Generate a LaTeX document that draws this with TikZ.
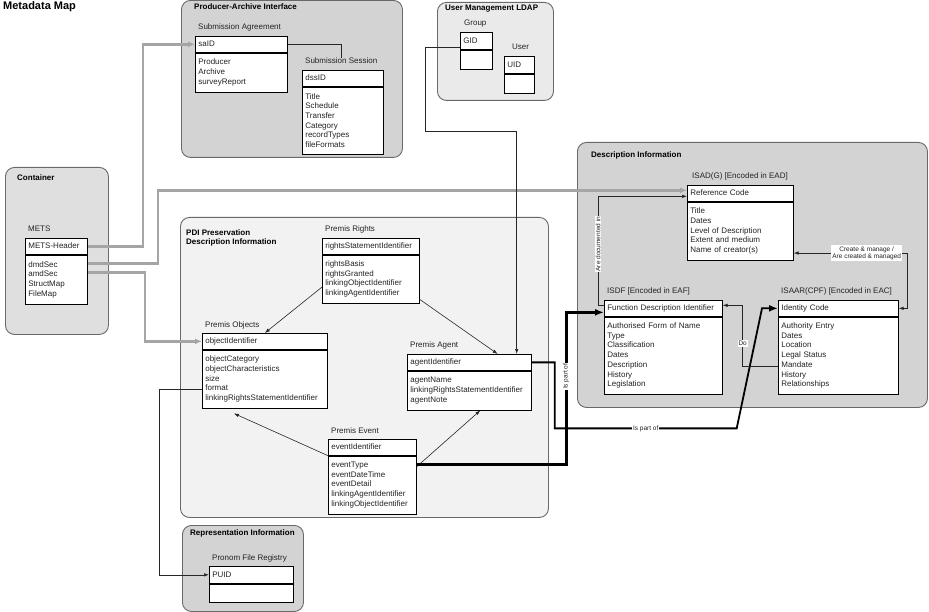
\documentclass[tikz,border=0pt]{standalone}
\usepackage{fontspec}
\setmainfont{Liberation Sans}
\usetikzlibrary{arrows.meta, positioning, calc}
\definecolor{groupdark}{RGB}{211,211,211}
\definecolor{groupmid}{RGB}{223,223,223}
\definecolor{grouplight}{RGB}{234,234,234}
\definecolor{groupfaint}{RGB}{242,242,242}
\definecolor{groupline}{RGB}{105,105,105}
\definecolor{linkgray}{RGB}{165,165,165}
\definecolor{textdark}{RGB}{35,35,35}
\newcommand{\mapfont}{\fontsize{8}{9.7}\selectfont}
\newcommand{\linkfont}{\fontsize{6.5}{7.2}\selectfont}

\begin{document}
\begin{tikzpicture}[
        x=1pt, y=-1pt,
        group/.style={draw=groupline, line width=0.9pt, rounded corners=9pt, anchor=north west, inner sep=0pt},
        grouptitle/.style={font=\mapfont\bfseries, anchor=base west, inner sep=0pt, align=left},
        caption/.style={font=\mapfont, text=textdark, inner sep=0pt, anchor=base west},
        head/.style={draw=black, fill=white, line width=0.7pt, anchor=north west, align=left, inner xsep=3pt, inner ysep=0pt, minimum height=16pt, text height=6pt, text depth=1pt, font=\mapfont, text=textdark},
        attrs/.style={draw=black, fill=white, line width=0.7pt, align=left, inner xsep=3pt, inner ysep=0pt, font=\mapfont, text=textdark},
        feed/.style={draw=linkgray, line width=2.4pt, -{Latex[length=7pt,width=6pt]}},
        plain/.style={draw=black!85, line width=0.6pt},
        rel/.style={draw=black!85, line width=0.6pt, -{Latex[length=5pt,width=3.5pt]}},
        relboth/.style={draw=black!85, line width=0.6pt, {Latex[length=5pt,width=3.5pt]}-{Latex[length=5pt,width=3.5pt]}},
        partof/.style={draw=black, line width=3pt, -{Latex[length=9pt,width=7pt]}},
        partofmid/.style={draw=black, line width=1.8pt, -{Latex[length=9pt,width=7pt]}},
        linklabel/.style={fill=white, inner sep=1pt, font=\linkfont, text=textdark}
    ]
    \path[fill=white] (0,0) rectangle (929,612);
    \useasboundingbox (0,0) rectangle (929,612);

    \node[font=\fontsize{11}{13}\selectfont\bfseries, anchor=base west, inner sep=0pt] (title) at (3,10) {Metadata Map};

    % groups
    \node[group, fill=groupdark, minimum width=221pt, minimum height=157pt] (pai) at (181,0) {};
    \node[grouptitle] at (194,10) {Producer-Archive Interface};
    \node[group, fill=grouplight, minimum width=116pt, minimum height=98pt] (ldap) at (437,2) {};
    \node[grouptitle] at (445,11) {User Management LDAP};
    \node[group, fill=groupmid, minimum width=103pt, minimum height=167pt] (cont) at (5,167) {};
    \node[grouptitle] at (17,181) {Container};
    \node[group, fill=groupfaint, minimum width=368pt, minimum height=300pt] (pdi) at (180,217) {};
    \node[grouptitle] at (186,245) {PDI Preservation\\Description Information};
    \node[group, fill=groupdark, minimum width=350pt, minimum height=265pt] (desc) at (577,142) {};
    \node[grouptitle] at (591,158) {Description Information};
    \node[group, fill=groupdark, minimum width=121pt, minimum height=86pt] (rep) at (182,525) {};
    \node[grouptitle] at (190,535) {Representation Information};

    % producer-archive interface
    \node[head, text width=86pt] (sa) at (195,36) {saID};
    \node[attrs, below=0pt of sa, text width=86pt, minimum height=39pt] (sa-b) {Producer\\Archive\\surveyReport};
    \node[caption] (sa-l) at ([shift={(3pt,6pt)}]sa.north west) {Submission Agreement};

    \node[head, text width=75pt] (ss) at (302,70) {dssID};
    \node[attrs, below=0pt of ss, text width=75pt, minimum height=67pt] (ss-b) {Title\\Schedule\\Transfer\\Category\\recordTypes\\fileFormats};
    \node[caption] (ss-l) at ([shift={(3pt,6pt)}]ss.north west) {Submission Session};

    % user management
    \node[head, text width=26pt, minimum height=17pt] (gid) at (460,32) {GID};
    \node[attrs, below=0pt of gid, text width=26pt, minimum height=19pt] (gid-b) {};
    \node[caption] (gid-l) at ([shift={(4pt,6pt)}]gid.north west) {Group};

    \node[head, text width=24pt, minimum height=17pt] (uid) at (504,56) {UID};
    \node[attrs, below=0pt of uid, text width=24pt, minimum height=19pt] (uid-b) {};
    \node[caption] (uid-l) at ([shift={(8pt,6pt)}]uid.north west) {User};

    % container
    \node[head, text width=56pt] (mets) at (25,238) {METS-Header};
    \node[attrs, below=0pt of mets, text width=56pt, minimum height=49pt] (mets-b) {dmdSec\\amdSec\\StructMap\\FileMap};
    \node[caption] (mets-l) at ([shift={(3pt,6pt)}]mets.north west) {METS};

    % premis
    \node[head, text width=91pt] (rights) at (322,238) {rightsStatementIdentifier};
    \node[attrs, below=0pt of rights, text width=91pt, minimum height=48pt] (rights-b) {rightsBasis\\rightsGranted\\linkingObjectIdentifier\\linkingAgentIdentifier};
    \node[caption] (rights-l) at ([shift={(3pt,6pt)}]rights.north west) {Premis Rights};

    \node[head, text width=119pt] (obj) at (202,333) {objectIdentifier};
    \node[attrs, below=0pt of obj, text width=119pt, minimum height=58pt] (obj-b) {objectCategory\\objectCharacteristics\\size\\format\\linkingRightsStatementIdentifier};
    \node[caption] (obj-l) at ([shift={(3pt,6pt)}]obj.north west) {Premis Objects};

    \node[head, text width=118pt] (agent) at (407,354) {agentIdentifier};
    \node[attrs, below=0pt of agent, text width=118pt, minimum height=39pt] (agent-b) {agentName\\linkingRightsStatementIdentifier\\agentNote};
    \node[caption] (agent-l) at ([shift={(3pt,6pt)}]agent.north west) {Premis Agent};

    \node[head, text width=82pt] (event) at (328,439) {eventIdentifier};
    \node[attrs, below=0pt of event, text width=82pt, minimum height=58pt] (event-b) {eventType\\eventDateTime\\eventDetail\\linkingAgentIdentifier\\linkingObjectIdentifier};
    \node[caption] (event-l) at ([shift={(3pt,6pt)}]event.north west) {Premis Event};

    % description information
    \node[head, text width=100pt] (isad) at (687,185) {Reference Code};
    \node[attrs, below=0pt of isad, text width=100pt, minimum height=58pt] (isad-b) {Title\\Dates\\Level of Description\\Extent and medium\\Name of creator(s)};
    \node[caption] (isad-l) at ([shift={(5pt,6pt)}]isad.north west) {ISAD(G) [Encoded in EAD]};

    \node[head, text width=112pt] (isdf) at (604,300) {Function Description Identifier};
    \node[attrs, below=0pt of isdf, text width=112pt, minimum height=77pt] (isdf-b) {Authorised Form of Name\\Type\\Classification\\Dates\\Description\\History\\Legislation};
    \node[caption] (isdf-l) at ([shift={(3pt,6pt)}]isdf.north west) {ISDF [Encoded in EAF]};

    \node[head, text width=114pt] (isaar) at (778,300) {Identity Code};
    \node[attrs, below=0pt of isaar, text width=114pt, minimum height=77pt] (isaar-b) {Authority Entry\\Dates\\Location\\Legal Status\\Mandate\\History\\Relationships};
    \node[caption] (isaar-l) at ([shift={(3pt,6pt)}]isaar.north west) {ISAAR(CPF) [Encoded in EAC]};

    % representation information
    \node[head, text width=78pt, minimum height=17pt] (puid) at (209,566) {PUID};
    \node[attrs, below=0pt of puid, text width=78pt, minimum height=18pt] (puid-b) {};
    \node[caption] (puid-l) at ([shift={(3pt,6pt)}]puid.north west) {Pronom File Registry};

    % METS links
    \draw[feed] (mets.east) -| ([xshift=-52pt]sa.west) -- (sa.west);
    \draw[feed] ([yshift=-9pt]mets-b.north east) -| ([shift={(-529pt,3pt)}]isad.west) -- ([yshift=3pt]isad.west);
    \draw[feed] ([yshift=-18pt]mets-b.north east) -| ([xshift=-57pt]obj.west) -- (obj.west);

    \draw[plain] (sa.east) -| (ss-l.north);
    \draw[rel] ([yshift=-6pt]gid.west) -- ++(-35,0) -- ++(0,84) -| ([xshift=-15pt]agent.north east);

    % premis links
    \draw[rel] ([yshift=-8pt]rights-b.west) -- (obj.north);
    \draw[rel] ([yshift=4pt]rights-b.south east) -- ([xshift=-34pt]agent.north east);
    \draw[rel] (event.south west) -- ([shift={(-31pt,-5pt)}]obj-b.south);
    \draw[rel] ([yshift=-11pt]event-b.north east) -- ([xshift=11pt]agent-b.south);

    \draw[partof] ([yshift=-9pt]event-b.north east) -| node[pos=0.79, rotate=90, linklabel] {Is part of} ([shift={(-38pt,-4pt)}]isdf.west) -- ([yshift=-4pt]isdf.west);
    \draw[partofmid] (agent.east) -- ++(23,0) -- ++(0,66) -- node[linklabel] {Is part of} ++(182,0) -- ([xshift=-16pt]isaar.west) -- (isaar.west);

    % description links
    \draw[rel] ([yshift=-5pt]isdf.north west) -- ++(-6,0) |- node[pos=0.28, rotate=90, linklabel] {Are documented in} ([yshift=-3pt]isad.west);
    \draw[relboth] (isaar.east) -- ++(9,0) |- node[pos=0.68, linklabel, align=center] {Create \& manage /\\Are created \& managed} ([yshift=-22pt]isad-b.east);
    \draw[rel] ([yshift=-50pt]isaar-b.north west) -| node[pos=0.69, linklabel] {Do} ([shift={(20pt,3pt)}]isdf.east) -- ([yshift=3pt]isdf.east);

    \draw[rel] ([yshift=-40pt]obj-b.north west) -- ++(-43,0) |- (puid.west);
\end{tikzpicture}
\end{document}
